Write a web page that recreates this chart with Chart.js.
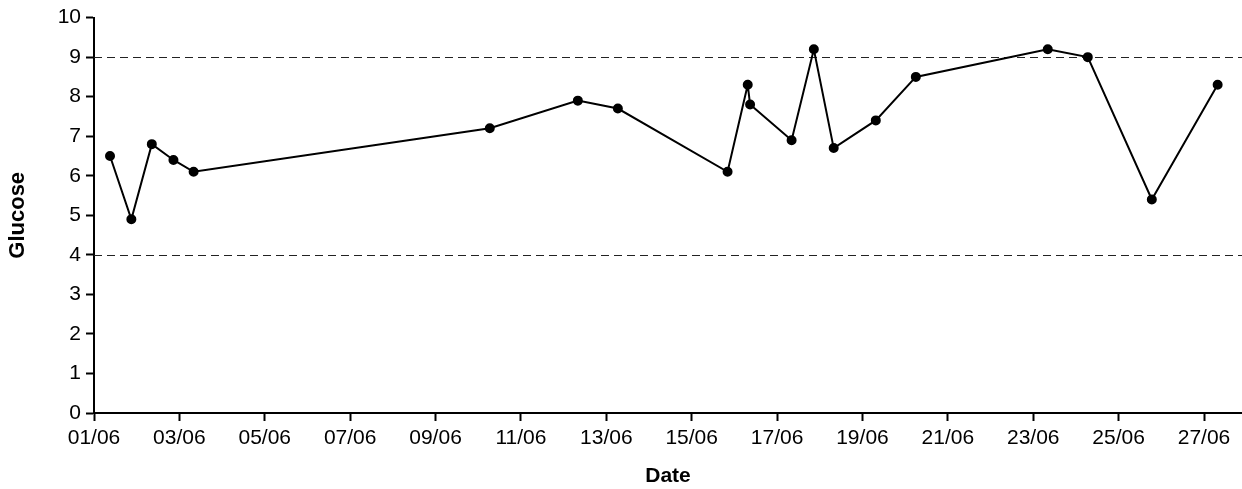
<!DOCTYPE html>
<html>
<head>
<meta charset="utf-8">
<script src="https://cdn.jsdelivr.net/npm/chart.js"></script>
<style>
  html, body { margin: 0; padding: 0; background: #fff; }
  #wrap { width: 1242px; height: 489px; }
</style>
</head>
<body>
<div id="wrap"><canvas id="glucoseChart" width="1242" height="489"></canvas></div>
<script>
// readings (dd/mm hh:mm) and glucose values
const readingTimes = [
    '01/06 09:00', '01/06 21:00', '02/06 08:30', '02/06 20:40', '03/06 08:00',
    '10/06 06:30', '12/06 08:00', '13/06 06:30', '15/06 20:10', '16/06 07:30',
    '16/06 08:50', '17/06 08:10', '17/06 20:40', '18/06 07:50', '19/06 07:30',
    '20/06 06:00', '23/06 08:10', '24/06 06:40', '25/06 18:40', '27/06 07:40'
];
const glucoseValues = [6.5, 4.9, 6.8, 6.4, 6.1, 7.2, 7.9, 7.7, 6.1, 8.3,
                       7.8, 6.9, 9.2, 6.7, 7.4, 8.5, 9.2, 9.0, 5.4, 8.3];
const xTickLabels = ['01/06', '03/06', '05/06', '07/06', '09/06', '11/06', '13/06',
                     '15/06', '17/06', '19/06', '21/06', '23/06', '25/06', '27/06'];
const yTickValues = [0, 1, 2, 3, 4, 5, 6, 7, 8, 9, 10];
const targetLines = [4, 9];

// days since 01/06 00:00
function toDays(s) {
    const parts = s.split(' ');
    const day = parseInt(parts[0].split('/')[0], 10);
    const hm = (parts[1] || '00:00').split(':');
    return (day - 1) + parseInt(hm[0], 10) / 24 + parseInt(hm[1], 10) / 1440;
}

const points = readingTimes.map(function (t, i) {
    return { x: toDays(t), y: glucoseValues[i] };
});

const FONT = "'Liberation Sans', Arial, sans-serif";

// dashed reference lines at 4 and 9
const targetLinePlugin = {
    id: 'targetLines',
    beforeDatasetsDraw(chart) {
        const ctx = chart.ctx;
        const area = chart.chartArea;
        const y = chart.scales.y;
        ctx.save();
        ctx.strokeStyle = '#222';
        ctx.lineWidth = 1;
        ctx.setLineDash([8, 5]);
        targetLines.forEach(function (v) {
            const py = Math.round(y.getPixelForValue(v)) + 0.5;
            ctx.beginPath();
            ctx.moveTo(area.left, py);
            ctx.lineTo(area.right, py);
            ctx.stroke();
        });
        ctx.restore();
    }
};

new Chart(document.getElementById('glucoseChart').getContext('2d'), {
    type: 'line',
    data: {
        datasets: [{
            label: 'Glucose',
            data: points,
            borderColor: '#000',
            backgroundColor: '#000',
            borderWidth: 2,
            tension: 0,
            pointRadius: 4,
            pointHoverRadius: 4,
            pointBackgroundColor: '#000',
            pointBorderColor: '#000',
            fill: false
        }]
    },
    options: {
        responsive: false,
        animation: false,
        devicePixelRatio: 1,
        layout: { autoPadding: false, padding: { top: 15, right: 0, left: 0, bottom: 0 } },
        plugins: {
            legend: { display: false },
            tooltip: { enabled: false }
        },
        scales: {
            x: {
                type: 'linear',
                min: 0,
                max: 26.89,
                afterBuildTicks: function (scale) {
                    scale.ticks = xTickLabels.map(function (l) { return { value: toDays(l) }; });
                },
                afterFit: function (scale) {
                    scale.height = 76;
                    scale.paddingLeft = 0;
                    scale.paddingRight = 0;
                },
                ticks: {
                    autoSkip: false,
                    maxRotation: 0,
                    padding: 5,
                    color: '#000',
                    font: { family: FONT, size: 21 },
                    callback: function (v, i) { return xTickLabels[i]; }
                },
                grid: {
                    drawOnChartArea: false,
                    drawTicks: true,
                    tickLength: 8,
                    tickColor: '#000',
                    tickWidth: 2
                },
                border: { color: '#000', width: 2 },
                title: {
                    display: true,
                    text: 'Date',
                    color: '#000',
                    padding: { top: 0, bottom: 0 },
                    font: { family: FONT, size: 21, weight: 'bold' }
                }
            },
            y: {
                min: 0,
                max: 10,
                afterBuildTicks: function (scale) {
                    scale.ticks = yTickValues.map(function (v) { return { value: v }; });
                },
                afterFit: function (scale) { scale.width = 94; },
                ticks: {
                    padding: 5,
                    color: '#000',
                    font: { family: FONT, size: 21 }
                },
                grid: {
                    drawOnChartArea: false,
                    drawTicks: true,
                    tickLength: 8,
                    tickColor: '#000',
                    tickWidth: 2
                },
                border: { color: '#000', width: 2 },
                title: {
                    display: true,
                    text: 'Glucose',
                    color: '#000',
                    padding: { top: 5, bottom: 0 },
                    font: { family: FONT, size: 22, weight: 'bold' }
                }
            }
        }
    },
    plugins: [targetLinePlugin]
});
</script>
</body>
</html>
